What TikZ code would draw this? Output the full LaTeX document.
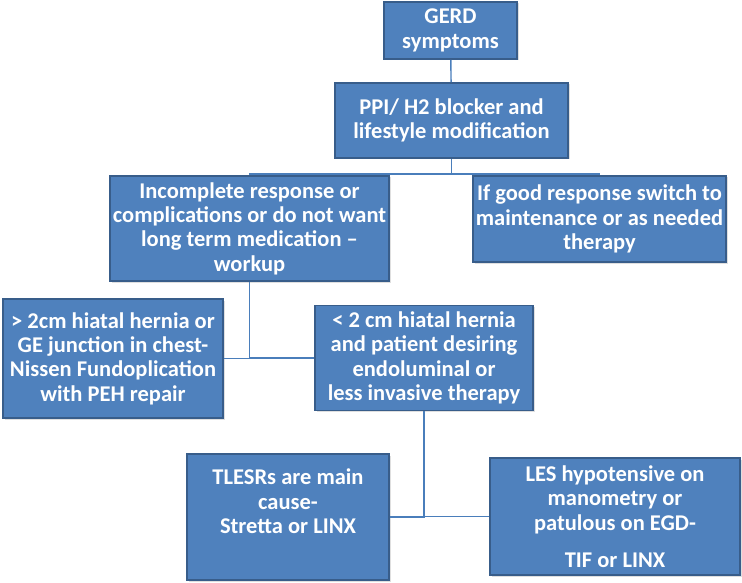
\documentclass[tikz,border=0pt]{standalone}
\usepackage{fontspec}
\setmainfont{Carlito}
\usetikzlibrary{shadows}
\definecolor{boxfill}{HTML}{4F81BD}
\definecolor{boxline}{HTML}{385D8A}
\definecolor{linkline}{HTML}{4A7EBB}
\begin{document}
\begin{tikzpicture}[x=1pt, y=-1pt,
        box/.style={draw=boxline, line width=1.6pt, fill=boxfill, text=white, align=center,
            inner sep=0pt, font=\bfseries\fontsize{22.5}{24.4}\selectfont,
            drop shadow={shadow xshift=1.5pt, shadow yshift=-1.5pt, opacity=0.25}},
        link/.style={draw=linkline, line width=1.4pt}]
        \useasboundingbox (0, 0) rectangle (742, 583);
        \node[box, minimum width=133pt, minimum height=57pt] (gerd) at (450.5, 30.5) {GERD\\symptoms};
        \node[box, minimum width=233pt, minimum height=75pt] (ppi) at (451.5, 120.5) {PPI/ H2 blocker and\\lifestyle modification};
        \node[box, minimum width=279pt, minimum height=105pt] (incomplete) at (249.5, 228.5)
            {Incomplete response or\\complications or do not want\\long term medication --\\workup};
        \node[box, minimum width=253pt, minimum height=86pt] (good) at (599.5, 219)
            {If good response switch to\\maintenance or as needed\\therapy};
        \node[box, minimum width=220pt, minimum height=119pt] (hernia) at (113, 358.5)
            {> 2cm hiatal hernia or\\GE junction in chest-\\Nissen Fundoplication\\with PEH repair};
        \node[box, minimum width=218pt, minimum height=105pt] (small) at (424, 358)
            {< 2 cm hiatal hernia\\and patient desiring\\endoluminal or\\less invasive therapy};
        \node[box, minimum width=202pt, minimum height=126pt] (tlesr) at (288, 517)
            {TLESRs are main\\cause-\\Stretta or LINX\\\strut};
        \node[box, minimum width=250pt, minimum height=117pt] (les) at (615, 516.5)
            {LES hypotensive on\\manometry or\\patulous on EGD-\\[13pt]TIF or LINX};
        \coordinate (split) at (451.5, 174);
        \draw[link] (gerd) -- (ppi);
        \draw[link] (ppi) -- (split);
        \draw[link] (split) -| (incomplete);
        \draw[link] (split) -| (good);
        \draw[link] (incomplete) |- (hernia);
        \draw[link] (incomplete) |- (small);
        \draw[link] (small) |- (tlesr);
        \draw[link] (small) |- (les);
    \end{tikzpicture}
\end{document}
